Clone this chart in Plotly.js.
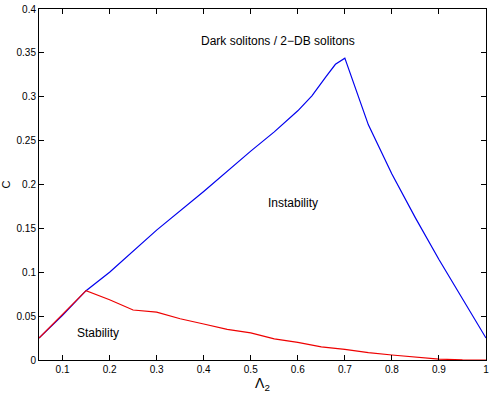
<!DOCTYPE html>
<html>
<head>
<meta charset="utf-8">
<script src="https://cdn.plot.ly/plotly-3.0.1.min.js"></script>
<style>
  html, body { margin: 0; padding: 0; background: #fff; }
  #plot { width: 491px; height: 395px; }
</style>
</head>
<body>
<div id="plot"></div>
<script>
'use strict'

// upper boundary (blue)
let blueX = [0.05, 0.10, 0.15, 0.20, 0.30, 0.40, 0.50, 0.55, 0.60, 0.63, 0.66, 0.68, 0.70, 0.75, 0.80, 0.85, 0.90, 0.95, 1.00]
let blueY = [0.025, 0.051, 0.079, 0.100, 0.148, 0.192, 0.238, 0.260, 0.284, 0.301, 0.323, 0.337, 0.344, 0.268, 0.212, 0.162, 0.1145, 0.0705, 0.025]

// lower boundary (red)
let redX = [0.05, 0.10, 0.15, 0.20, 0.25, 0.30, 0.35, 0.40, 0.45, 0.50, 0.55, 0.60, 0.65, 0.70, 0.75, 0.80, 0.85, 0.90, 0.95, 1.00]
let redY = [0.025, 0.0515, 0.079, 0.0687, 0.057, 0.0546, 0.047, 0.041, 0.035, 0.031, 0.024, 0.020, 0.015, 0.012, 0.0084, 0.0057, 0.0034, 0.001, 0.0002, 0]

let xTicks = [0.1, 0.2, 0.3, 0.4, 0.5, 0.6, 0.7, 0.8, 0.9, 1]
let xTickText = ['0.1', '0.2', '0.3', '0.4', '0.5', '0.6', '0.7', '0.8', '0.9', '1']
let yTicks = [0, 0.05, 0.1, 0.15, 0.2, 0.25, 0.3, 0.35, 0.4]
let yTickText = ['0', '0.05', '0.1', '0.15', '0.2', '0.25', '0.3', '0.35', '0.4']

let data = [
  {x: blueX, y: blueY, type: 'scatter', mode: 'lines', line: {color: '#0000ee', width: 1.2}},
  {x: redX, y: redY, type: 'scatter', mode: 'lines', line: {color: '#ee0000', width: 1.2}}
]

let axisBase = {
  showgrid: false, zeroline: false, showline: true, linecolor: '#000', linewidth: 1,
  mirror: 'ticks', ticks: 'inside', ticklen: 5, tickcolor: '#000',
  tickfont: {size: 10, color: '#000'}
}

let layout = {
  width: 491, height: 395,
  margin: {l: 39, r: 5, t: 9, b: 35},
  paper_bgcolor: '#fff', plot_bgcolor: '#fff',
  showlegend: false,
  font: {family: 'Liberation Sans, Arial, sans-serif', color: '#000'},
  xaxis: Object.assign({}, axisBase, {
    range: [0.05, 1], tickvals: xTicks, ticktext: xTickText,
    title: {text: 'Λ<sub>2</sub>', font: {size: 14}, standoff: 4}
  }),
  yaxis: Object.assign({}, axisBase, {
    range: [0, 0.4], tickvals: yTicks, ticktext: yTickText,
    title: {text: 'C', font: {size: 11}, standoff: 6}
  }),
  annotations: [
    {x: 0.557, y: 0.363, text: 'Dark solitons / 2\u2212DB solitons', showarrow: false, font: {size: 12}},
    {x: 0.589, y: 0.179, text: 'Instability', showarrow: false, font: {size: 12}},
    {x: 0.1755, y: 0.031, text: 'Stability', showarrow: false, font: {size: 12}}
  ]
}

Plotly.newPlot(document.getElementById('plot'), data, layout, {displayModeBar: false, staticPlot: true})
</script>
</body>
</html>
